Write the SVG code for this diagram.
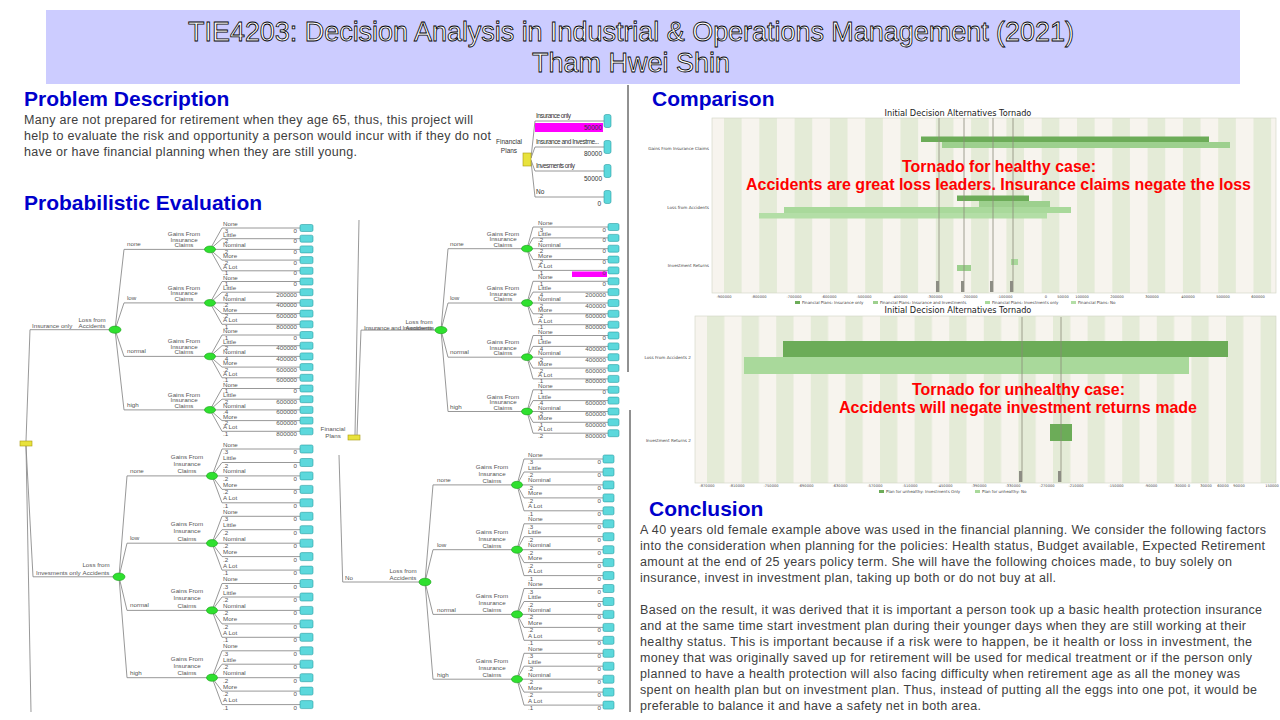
<svg xmlns="http://www.w3.org/2000/svg" width="1280" height="720" viewBox="0 0 1280 720">
<defs>
<style>
.hd{font-family:"Liberation Sans",Arial,sans-serif;font-weight:bold;font-size:21px;fill:#0000cc}
.ti{font-family:"Liberation Sans",Arial,sans-serif;font-size:27px;fill:#fff;stroke:#000;stroke-width:0.8px}
.bd{font-family:"Liberation Sans",Arial,sans-serif;font-size:12.5px;fill:#404040}
.t{font-family:"Liberation Sans",Arial,sans-serif;font-size:6.2px;fill:#555}
.te{font-family:"Liberation Sans",Arial,sans-serif;font-size:6.2px;fill:#555;text-anchor:end}
.tm{font-family:"Liberation Sans",Arial,sans-serif;font-size:6.2px;fill:#555;text-anchor:middle}
.ft{font-family:"Liberation Sans",Arial,sans-serif;font-size:6.5px;fill:#333}
.cn{fill:none;stroke:#8c8c8c;stroke-width:0.9}
.ch{fill:#2fe02f;stroke:#17a017;stroke-width:0.6}
.lf{fill:#5cd8dc;stroke:#2a9da3;stroke-width:0.6}
.dc{fill:#e8e23c;stroke:#a89a10;stroke-width:0.6}
.ct{font-family:"DejaVu Sans",sans-serif;font-size:8.2px;fill:#222;text-anchor:middle}
.ax{font-family:"DejaVu Sans",sans-serif;font-size:3.6px;fill:#444;text-anchor:middle}
.cat{font-family:"DejaVu Sans",sans-serif;font-size:4.2px;fill:#444;text-anchor:end}
.lg{font-family:"DejaVu Sans",sans-serif;font-size:4px;fill:#444}
.red{font-family:"Liberation Sans",Arial,sans-serif;font-weight:bold;font-size:17px;fill:#ff0000}
.ref{stroke:#8a8a78;stroke-width:0.8}
.s1{fill:#6cac58}
.s2{fill:#9dd08e}
.s3{fill:#a9d99b}
.s4{fill:#b3dea6}
.dv{stroke:#222;stroke-width:1}
</style>
<pattern id="st1" patternUnits="userSpaceOnUse" x="724" y="0" width="35.3" height="10"><rect width="35.3" height="10" fill="#f7f4ee"/><rect width="17.6" height="10" fill="#e4ebd7"/></pattern>
<pattern id="st2" patternUnits="userSpaceOnUse" x="707" y="0" width="34.6" height="10"><rect width="34.6" height="10" fill="#f7f4ee"/><rect width="17.3" height="10" fill="#e4ebd7"/></pattern>
<rect id="bA" class="lf" width="13" height="7" rx="1.5"/>
<rect id="bC" class="lf" width="13" height="8" rx="1.5"/>
<rect id="bB" class="lf" width="11" height="7" rx="1.5"/>
<rect id="bD" class="lf" width="11" height="8" rx="1.5"/>
</defs>
<rect width="1280" height="720" fill="#fff"/>

<g id="header">
<rect x="46" y="10" width="1194" height="74" fill="#ccccff"/>
<text class="ti" x="188" y="41" textLength="886">TIE4203: Decision Analysis in Industrial &amp; Operations Management (2021)</text>
<text class="ti" x="631" y="72" text-anchor="middle">Tham Hwei Shin</text>
</g>

<g id="dividers">
<line class="dv" x1="628" y1="85" x2="628" y2="372"/>
<line class="dv" x1="630" y1="410" x2="630" y2="712"/>
</g>

<g id="problem">
<text class="hd" x="24" y="106">Problem Description</text>
<text class="bd" x="24" y="124" textLength="449" lengthAdjust="spacing">Many are not prepared for retirement when they age 65, thus, this project will</text>
<text class="bd" x="24" y="140" textLength="467" lengthAdjust="spacing">help to evaluate the risk and opportunity a person would incur with if they do not</text>
<text class="bd" x="24" y="156" textLength="333" lengthAdjust="spacing">have or have financial planning when they are still young.</text>
</g>

<g id="fp-summary">
<g id="fp-connectors" class="cn"><path d="M531,158 L535,121 H604 M531,158 L535,147 H604 M531,160 L535,171 H604 M531,161 L535,197 H604"/></g>
<rect x="535" y="123" width="68" height="9" fill="#ff00ff"/>
<g id="fp-decision"><rect class="dc" x="523" y="153" width="8" height="13"/>
<text class="ft" x="509" y="144" text-anchor="middle">Financial</text>
<text class="ft" x="509" y="153" text-anchor="middle">Plans</text></g>
<g id="fp-ins"><rect class="lf" x="604" y="114.5" width="7" height="13" rx="2"/><text class="ft" x="536" y="117.5" textLength="35">Insurance only</text><text class="ft" x="602" y="130" text-anchor="end">50000</text></g>
<g id="fp-both"><rect class="lf" x="604" y="140.5" width="7" height="13" rx="2"/><text class="ft" x="536" y="144" textLength="63">Insurance and Investme...</text><text class="ft" x="602" y="156" text-anchor="end">80000</text></g>
<g id="fp-inv"><rect class="lf" x="604" y="164.5" width="7" height="13" rx="2"/><text class="ft" x="536" y="168" textLength="39">Invesments only</text><text class="ft" x="602" y="181" text-anchor="end">50000</text></g>
<g id="fp-no"><rect class="lf" x="604" y="190.5" width="7" height="13" rx="2"/><text class="ft" x="536" y="194">No</text><text class="ft" x="601" y="206" text-anchor="end">0</text></g>
</g>

<text class="hd" x="24" y="210">Probabilistic Evaluation</text>

<!-- Tree A : Insurance only -->
<g id="tree-insurance-only">
<g id="A-connectors" class="cn"><path d="M26,441 L30,329.7 H115
M115,329.7 L124,249.4 H210 M115,329.7 L124,302.9 H210 M115,329.7 L124,356.4 H210 M115,329.7 L124,409.9 H210
M210,249.4 L222,228 H300 M210,249.4 L222,238.7 H300 M210,249.4 L222,249.4 H300 M210,249.4 L222,260.1 H300 M210,249.4 L222,270.8 H300
M210,302.9 L222,281.5 H300 M210,302.9 L222,292.2 H300 M210,302.9 L222,302.9 H300 M210,302.9 L222,313.6 H300 M210,302.9 L222,324.3 H300
M210,356.4 L222,335 H300 M210,356.4 L222,345.7 H300 M210,356.4 L222,356.4 H300 M210,356.4 L222,367.1 H300 M210,356.4 L222,377.8 H300
M210,409.9 L222,388.5 H300 M210,409.9 L222,399.2 H300 M210,409.9 L222,409.9 H300 M210,409.9 L222,420.6 H300 M210,409.9 L222,431.3 H300"/></g>
<g id="A-loss"><ellipse class="ch" cx="115" cy="329.7" rx="6" ry="3.6"/><text class="tm" x="92" y="322">Loss from</text><text class="tm" x="92" y="328.3">Accidents</text><text class="t" x="32" y="328.3">Insurance only</text></g>
<g id="A-gain-none"><ellipse class="ch" cx="210" cy="249.4" rx="5.5" ry="3.4"/><text class="t" x="127" y="246.4">none</text><text class="tm" x="184" y="236">Gains From</text><text class="tm" x="184" y="241.7">Insurance</text><text class="tm" x="184" y="247.4">Claims</text></g>
<g id="A-gain-low"><ellipse class="ch" cx="210" cy="302.9" rx="5.5" ry="3.4"/><text class="t" x="127" y="299.9">low</text><text class="tm" x="184" y="289.5">Gains From</text><text class="tm" x="184" y="295.2">Insurance</text><text class="tm" x="184" y="300.9">Claims</text></g>
<g id="A-gain-normal"><ellipse class="ch" cx="210" cy="356.4" rx="5.5" ry="3.4"/><text class="t" x="127" y="353.4">normal</text><text class="tm" x="184" y="343">Gains From</text><text class="tm" x="184" y="348.7">Insurance</text><text class="tm" x="184" y="354.4">Claims</text></g>
<g id="A-gain-high"><ellipse class="ch" cx="210" cy="409.9" rx="5.5" ry="3.4"/><text class="t" x="127" y="406.9">high</text><text class="tm" x="184" y="396.5">Gains From</text><text class="tm" x="184" y="402.2">Insurance</text><text class="tm" x="184" y="407.9">Claims</text></g>
<g id="A-leaves">
<use href="#bA" x="300" y="224.5"/><use href="#bA" x="300" y="235.2"/><use href="#bA" x="300" y="245.9"/><use href="#bA" x="300" y="256.6"/><use href="#bA" x="300" y="267.3"/>
<use href="#bA" x="300" y="278"/><use href="#bA" x="300" y="288.7"/><use href="#bA" x="300" y="299.4"/><use href="#bA" x="300" y="310.1"/><use href="#bA" x="300" y="320.8"/>
<use href="#bA" x="300" y="331.5"/><use href="#bA" x="300" y="342.2"/><use href="#bA" x="300" y="352.9"/><use href="#bA" x="300" y="363.6"/><use href="#bA" x="300" y="374.3"/>
<use href="#bA" x="300" y="385"/><use href="#bA" x="300" y="395.7"/><use href="#bA" x="300" y="406.4"/><use href="#bA" x="300" y="417.1"/><use href="#bA" x="300" y="427.8"/>
<text class="t"><tspan x="223" y="226">None</tspan><tspan x="223" y="236.7">Little</tspan><tspan x="223" y="247.4">Nominal</tspan><tspan x="223" y="258.1">More</tspan><tspan x="223" y="268.8">A Lot</tspan><tspan x="223" y="279.5">None</tspan><tspan x="223" y="290.2">Little</tspan><tspan x="223" y="300.9">Nominal</tspan><tspan x="223" y="311.6">More</tspan><tspan x="223" y="322.3">A Lot</tspan><tspan x="223" y="333">None</tspan><tspan x="223" y="343.7">Little</tspan><tspan x="223" y="354.4">Nominal</tspan><tspan x="223" y="365.1">More</tspan><tspan x="223" y="375.8">A Lot</tspan><tspan x="223" y="386.5">None</tspan><tspan x="223" y="397.2">Little</tspan><tspan x="223" y="407.9">Nominal</tspan><tspan x="223" y="418.6">More</tspan><tspan x="223" y="429.3">A Lot</tspan></text>
<text class="t"><tspan x="223" y="232.5">.3</tspan><tspan x="223" y="243.2">.2</tspan><tspan x="223" y="253.9">.2</tspan><tspan x="223" y="264.6">.2</tspan><tspan x="223" y="275.3">.1</tspan><tspan x="223" y="286">.1</tspan><tspan x="223" y="296.7">.4</tspan><tspan x="223" y="307.4">.2</tspan><tspan x="223" y="318.1">.2</tspan><tspan x="223" y="328.8">.1</tspan><tspan x="223" y="339.5">.1</tspan><tspan x="223" y="350.2">.2</tspan><tspan x="223" y="360.9">.4</tspan><tspan x="223" y="371.6">.2</tspan><tspan x="223" y="382.3">.1</tspan><tspan x="223" y="393">.1</tspan><tspan x="223" y="403.7">.2</tspan><tspan x="223" y="414.4">.4</tspan><tspan x="223" y="425.1">.2</tspan><tspan x="223" y="435.8">.1</tspan></text>
<text class="te"><tspan x="297" y="232.5">0</tspan><tspan x="297" y="243.2">0</tspan><tspan x="297" y="253.9">0</tspan><tspan x="297" y="264.6">0</tspan><tspan x="297" y="275.3">0</tspan><tspan x="297" y="286">0</tspan><tspan x="297" y="296.7">200000</tspan><tspan x="297" y="307.4">400000</tspan><tspan x="297" y="318.1">600000</tspan><tspan x="297" y="328.8">800000</tspan><tspan x="297" y="339.5">0</tspan><tspan x="297" y="350.2">400000</tspan><tspan x="297" y="360.9">400000</tspan><tspan x="297" y="371.6">600000</tspan><tspan x="297" y="382.3">600000</tspan><tspan x="297" y="393">0</tspan><tspan x="297" y="403.7">600000</tspan><tspan x="297" y="414.4">600000</tspan><tspan x="297" y="425.1">600000</tspan><tspan x="297" y="435.8">800000</tspan></text>
</g>
</g>

<!-- Tree C : Investments only -->
<g id="tree-investments-only">
<g id="C-connectors" class="cn"><path d="M26,446 L33,576.8 H119 M26,446 L31,712
M119,576.8 L127,475.9 H212 M119,576.8 L127,543.2 H212 M119,576.8 L127,610.4 H212 M119,576.8 L127,677.7 H212
M212,475.9 L222,449 H300 M212,475.9 L222,462.5 H300 M212,475.9 L222,475.9 H300 M212,475.9 L222,489.4 H300 M212,475.9 L222,502.8 H300
M212,543.2 L222,516.3 H300 M212,543.2 L222,529.7 H300 M212,543.2 L222,543.2 H300 M212,543.2 L222,556.6 H300 M212,543.2 L222,570.1 H300
M212,610.4 L222,583.5 H300 M212,610.4 L222,597 H300 M212,610.4 L222,610.4 H300 M212,610.4 L222,623.9 H300 M212,610.4 L222,637.3 H300
M212,677.7 L222,650.8 H300 M212,677.7 L222,664.2 H300 M212,677.7 L222,677.7 H300 M212,677.7 L222,691.1 H300 M212,677.7 L222,704.6 H300"/></g>
<g id="root-left"><rect class="dc" x="20" y="441" width="12" height="5"/></g>
<g id="C-loss"><ellipse class="ch" cx="119" cy="576.8" rx="6" ry="3.8"/><text class="tm" x="96" y="567">Loss from</text><text class="tm" x="96" y="574.7">Accidents</text><text class="t" x="36" y="574.7">Invesments only</text></g>
<g id="C-gain-none"><ellipse class="ch" cx="212" cy="475.9" rx="5.5" ry="3.6"/><text class="t" x="130" y="472.9">none</text><text class="tm" x="187" y="458.7">Gains From</text><text class="tm" x="187" y="465.9">Insurance</text><text class="tm" x="187" y="473.2">Claims</text></g>
<g id="C-gain-low"><ellipse class="ch" cx="212" cy="543.2" rx="5.5" ry="3.6"/><text class="t" x="130" y="540.2">low</text><text class="tm" x="187" y="526">Gains From</text><text class="tm" x="187" y="533.2">Insurance</text><text class="tm" x="187" y="540.5">Claims</text></g>
<g id="C-gain-normal"><ellipse class="ch" cx="212" cy="610.4" rx="5.5" ry="3.6"/><text class="t" x="130" y="607.4">normal</text><text class="tm" x="187" y="593.2">Gains From</text><text class="tm" x="187" y="600.4">Insurance</text><text class="tm" x="187" y="607.7">Claims</text></g>
<g id="C-gain-high"><ellipse class="ch" cx="212" cy="677.7" rx="5.5" ry="3.6"/><text class="t" x="130" y="674.7">high</text><text class="tm" x="187" y="660.5">Gains From</text><text class="tm" x="187" y="667.7">Insurance</text><text class="tm" x="187" y="675">Claims</text></g>
<g id="C-leaves">
<use href="#bC" x="300" y="445"/><use href="#bC" x="300" y="458.5"/><use href="#bC" x="300" y="471.9"/><use href="#bC" x="300" y="485.4"/><use href="#bC" x="300" y="498.8"/>
<use href="#bC" x="300" y="512.3"/><use href="#bC" x="300" y="525.7"/><use href="#bC" x="300" y="539.2"/><use href="#bC" x="300" y="552.6"/><use href="#bC" x="300" y="566.1"/>
<use href="#bC" x="300" y="579.5"/><use href="#bC" x="300" y="593"/><use href="#bC" x="300" y="606.4"/><use href="#bC" x="300" y="619.9"/><use href="#bC" x="300" y="633.3"/>
<use href="#bC" x="300" y="646.8"/><use href="#bC" x="300" y="660.2"/><use href="#bC" x="300" y="673.7"/><use href="#bC" x="300" y="687.1"/><use href="#bC" x="300" y="700.6"/>
<text class="t"><tspan x="223" y="446.5">None</tspan><tspan x="223" y="460">Little</tspan><tspan x="223" y="473.4">Nominal</tspan><tspan x="223" y="486.9">More</tspan><tspan x="223" y="500.3">A Lot</tspan><tspan x="223" y="513.8">None</tspan><tspan x="223" y="527.2">Little</tspan><tspan x="223" y="540.7">Nominal</tspan><tspan x="223" y="554.1">More</tspan><tspan x="223" y="567.6">A Lot</tspan><tspan x="223" y="581">None</tspan><tspan x="223" y="594.5">Little</tspan><tspan x="223" y="607.9">Nominal</tspan><tspan x="223" y="621.4">More</tspan><tspan x="223" y="634.8">A Lot</tspan><tspan x="223" y="648.3">None</tspan><tspan x="223" y="661.7">Little</tspan><tspan x="223" y="675.2">Nominal</tspan><tspan x="223" y="688.6">More</tspan><tspan x="223" y="702.1">A Lot</tspan></text>
<text class="t"><tspan x="223" y="454">.3</tspan><tspan x="223" y="467.5">.2</tspan><tspan x="223" y="480.9">.2</tspan><tspan x="223" y="494.4">.2</tspan><tspan x="223" y="507.8">.1</tspan><tspan x="223" y="521.3">.3</tspan><tspan x="223" y="534.7">.2</tspan><tspan x="223" y="548.2">.2</tspan><tspan x="223" y="561.6">.2</tspan><tspan x="223" y="575.1">.1</tspan><tspan x="223" y="588.5">.3</tspan><tspan x="223" y="602">.2</tspan><tspan x="223" y="615.4">.2</tspan><tspan x="223" y="628.9">.2</tspan><tspan x="223" y="642.3">.1</tspan><tspan x="223" y="655.8">.3</tspan><tspan x="223" y="669.2">.2</tspan><tspan x="223" y="682.7">.2</tspan><tspan x="223" y="696.1">.2</tspan><tspan x="223" y="709.6">.1</tspan></text>
<text class="te"><tspan x="297" y="454">0</tspan><tspan x="297" y="467.5">0</tspan><tspan x="297" y="480.9">0</tspan><tspan x="297" y="494.4">0</tspan><tspan x="297" y="507.8">0</tspan><tspan x="297" y="521.3">0</tspan><tspan x="297" y="534.7">0</tspan><tspan x="297" y="548.2">0</tspan><tspan x="297" y="561.6">0</tspan><tspan x="297" y="575.1">0</tspan><tspan x="297" y="588.5">0</tspan><tspan x="297" y="602">0</tspan><tspan x="297" y="615.4">0</tspan><tspan x="297" y="628.9">0</tspan><tspan x="297" y="642.3">0</tspan><tspan x="297" y="655.8">0</tspan><tspan x="297" y="669.2">0</tspan><tspan x="297" y="682.7">0</tspan><tspan x="297" y="696.1">0</tspan><tspan x="297" y="709.6">0</tspan></text>
</g>
</g>

<!-- Tree B : Insurance and Investments -->
<g id="tree-insurance-and-investments">
<g id="B-connectors" class="cn"><path d="M355,435 L359,220 M357,435 L361,330.1 H441
M441,330.1 L448,248.7 H527 M441,330.1 L448,303 H527 M441,330.1 L448,357.2 H527 M441,330.1 L448,411.5 H527
M527,248.7 L533,227 H608 M527,248.7 L533,237.9 H608 M527,248.7 L533,248.7 H608 M527,248.7 L533,259.6 H608 M527,248.7 L533,270.4 H608
M527,303 L533,281.3 H608 M527,303 L533,292.1 H608 M527,303 L533,303 H608 M527,303 L533,313.8 H608 M527,303 L533,324.7 H608
M527,357.2 L533,335.5 H608 M527,357.2 L533,346.4 H608 M527,357.2 L533,357.2 H608 M527,357.2 L533,368.1 H608 M527,357.2 L533,378.9 H608
M527,411.5 L533,389.8 H608 M527,411.5 L533,400.6 H608 M527,411.5 L533,411.5 H608 M527,411.5 L533,422.3 H608 M527,411.5 L533,433.2 H608"/></g>
<g id="root-right"><rect class="dc" x="348" y="435" width="12" height="5"/><text class="tm" x="333" y="431">Financial</text><text class="tm" x="333" y="438">Plans</text></g>
<g id="B-loss"><ellipse class="ch" cx="441" cy="330.1" rx="6" ry="3.6"/><text class="tm" x="419" y="323.7">Loss from</text><text class="t" x="364" y="329.5" textLength="70">Insurance and Investments</text><text class="tm" x="419" y="329.5">Accidents</text></g>
<g id="B-gain-none"><ellipse class="ch" cx="527" cy="248.7" rx="5.5" ry="3.4"/><text class="t" x="450" y="245.7">none</text><text class="tm" x="503" y="235.7">Gains From</text><text class="tm" x="503" y="241.2">Insurance</text><text class="tm" x="503" y="246.7">Claims</text></g>
<g id="B-gain-low"><ellipse class="ch" cx="527" cy="303" rx="5.5" ry="3.4"/><text class="t" x="450" y="300">low</text><text class="tm" x="503" y="290">Gains From</text><text class="tm" x="503" y="295.5">Insurance</text><text class="tm" x="503" y="301">Claims</text></g>
<g id="B-gain-normal"><ellipse class="ch" cx="527" cy="357.2" rx="5.5" ry="3.4"/><text class="t" x="450" y="354.2">normal</text><text class="tm" x="503" y="344.2">Gains From</text><text class="tm" x="503" y="349.7">Insurance</text><text class="tm" x="503" y="355.2">Claims</text></g>
<g id="B-gain-high"><ellipse class="ch" cx="527" cy="411.5" rx="5.5" ry="3.4"/><text class="t" x="450" y="408.5">high</text><text class="tm" x="503" y="398.5">Gains From</text><text class="tm" x="503" y="404">Insurance</text><text class="tm" x="503" y="409.5">Claims</text></g>
<g id="B-leaves">
<rect x="572" y="271.5" width="35" height="5.5" fill="#ff00ff"/>
<use href="#bB" x="608" y="223.5"/><use href="#bB" x="608" y="234.4"/><use href="#bB" x="608" y="245.2"/><use href="#bB" x="608" y="256.1"/><use href="#bB" x="608" y="266.9"/>
<use href="#bB" x="608" y="277.8"/><use href="#bB" x="608" y="288.6"/><use href="#bB" x="608" y="299.5"/><use href="#bB" x="608" y="310.3"/><use href="#bB" x="608" y="321.2"/>
<use href="#bB" x="608" y="332"/><use href="#bB" x="608" y="342.9"/><use href="#bB" x="608" y="353.7"/><use href="#bB" x="608" y="364.6"/><use href="#bB" x="608" y="375.4"/>
<use href="#bB" x="608" y="386.3"/><use href="#bB" x="608" y="397.1"/><use href="#bB" x="608" y="408"/><use href="#bB" x="608" y="418.8"/><use href="#bB" x="608" y="429.7"/>
<text class="t"><tspan x="538" y="225">None</tspan><tspan x="538" y="235.9">Little</tspan><tspan x="538" y="246.7">Nominal</tspan><tspan x="538" y="257.6">More</tspan><tspan x="538" y="268.4">A Lot</tspan><tspan x="538" y="279.3">None</tspan><tspan x="538" y="290.1">Little</tspan><tspan x="538" y="301">Nominal</tspan><tspan x="538" y="311.8">More</tspan><tspan x="538" y="322.7">A Lot</tspan><tspan x="538" y="333.5">None</tspan><tspan x="538" y="344.4">Little</tspan><tspan x="538" y="355.2">Nominal</tspan><tspan x="538" y="366.1">More</tspan><tspan x="538" y="376.9">A Lot</tspan><tspan x="538" y="387.8">None</tspan><tspan x="538" y="398.6">Little</tspan><tspan x="538" y="409.5">Nominal</tspan><tspan x="538" y="420.3">More</tspan><tspan x="538" y="431.2">A Lot</tspan></text>
<text class="t"><tspan x="538" y="231.5">.3</tspan><tspan x="538" y="242.4">.2</tspan><tspan x="538" y="253.2">.2</tspan><tspan x="538" y="264.1">.2</tspan><tspan x="538" y="274.9">.1</tspan><tspan x="538" y="285.8">.1</tspan><tspan x="538" y="296.6">.4</tspan><tspan x="538" y="307.5">.2</tspan><tspan x="538" y="318.3">.2</tspan><tspan x="538" y="329.2">.1</tspan><tspan x="538" y="340">.1</tspan><tspan x="538" y="350.9">.4</tspan><tspan x="538" y="361.7">.2</tspan><tspan x="538" y="372.6">.2</tspan><tspan x="538" y="383.4">.1</tspan><tspan x="538" y="394.3">.1</tspan><tspan x="538" y="405.1">.4</tspan><tspan x="538" y="416">.2</tspan><tspan x="538" y="426.8">.1</tspan><tspan x="538" y="437.7">.2</tspan></text>
<text class="te"><tspan x="606" y="231.5">0</tspan><tspan x="606" y="242.4">0</tspan><tspan x="606" y="253.2">0</tspan><tspan x="606" y="264.1">0</tspan><tspan x="606" y="274.9">0</tspan><tspan x="606" y="285.8">0</tspan><tspan x="606" y="296.6">200000</tspan><tspan x="606" y="307.5">400000</tspan><tspan x="606" y="318.3">600000</tspan><tspan x="606" y="329.2">800000</tspan><tspan x="606" y="340">0</tspan><tspan x="606" y="350.9">400000</tspan><tspan x="606" y="361.7">400000</tspan><tspan x="606" y="372.6">600000</tspan><tspan x="606" y="383.4">800000</tspan><tspan x="606" y="394.3">0</tspan><tspan x="606" y="405.1">600000</tspan><tspan x="606" y="416">600000</tspan><tspan x="606" y="426.8">600000</tspan><tspan x="606" y="437.7">800000</tspan></text>
</g>
</g>

<!-- Tree D : No -->
<g id="tree-no">
<g id="D-connectors" class="cn"><path d="M339,455 L342.7,582 H425
M425,582 L433,484.9 H517 M425,582 L433,549.7 H517 M425,582 L433,614.4 H517 M425,582 L433,679.2 H517
M517,484.9 L524,459 H603 M517,484.9 L524,472 H603 M517,484.9 L524,484.9 H603 M517,484.9 L524,497.9 H603 M517,484.9 L524,510.8 H603
M517,549.7 L524,523.8 H603 M517,549.7 L524,536.7 H603 M517,549.7 L524,549.7 H603 M517,549.7 L524,562.6 H603 M517,549.7 L524,575.6 H603
M517,614.4 L524,588.5 H603 M517,614.4 L524,601.5 H603 M517,614.4 L524,614.4 H603 M517,614.4 L524,627.4 H603 M517,614.4 L524,640.3 H603
M517,679.2 L524,653.3 H603 M517,679.2 L524,666.2 H603 M517,679.2 L524,679.2 H603 M517,679.2 L524,692.1 H603 M517,679.2 L524,705.1 H603"/></g>
<g id="D-loss"><ellipse class="ch" cx="425" cy="582" rx="6" ry="3.8"/><text class="tm" x="403" y="573">Loss from</text><text class="tm" x="403" y="580">Accidents</text><text class="t" x="345" y="580">No</text></g>
<g id="D-gain-none"><ellipse class="ch" cx="517" cy="484.9" rx="5.5" ry="3.6"/><text class="t" x="437" y="482.4">none</text><text class="tm" x="492" y="468.7">Gains From</text><text class="tm" x="492" y="475.7">Insurance</text><text class="tm" x="492" y="482.7">Claims</text></g>
<g id="D-gain-low"><ellipse class="ch" cx="517" cy="549.7" rx="5.5" ry="3.6"/><text class="t" x="437" y="547.2">low</text><text class="tm" x="492" y="533.5">Gains From</text><text class="tm" x="492" y="540.5">Insurance</text><text class="tm" x="492" y="547.5">Claims</text></g>
<g id="D-gain-normal"><ellipse class="ch" cx="517" cy="614.4" rx="5.5" ry="3.6"/><text class="t" x="437" y="611.9">normal</text><text class="tm" x="492" y="598.2">Gains From</text><text class="tm" x="492" y="605.2">Insurance</text><text class="tm" x="492" y="612.2">Claims</text></g>
<g id="D-gain-high"><ellipse class="ch" cx="517" cy="679.2" rx="5.5" ry="3.6"/><text class="t" x="437" y="676.7">high</text><text class="tm" x="492" y="663">Gains From</text><text class="tm" x="492" y="670">Insurance</text><text class="tm" x="492" y="677">Claims</text></g>
<g id="D-leaves">
<use href="#bD" x="603" y="455"/><use href="#bD" x="603" y="468"/><use href="#bD" x="603" y="480.9"/><use href="#bD" x="603" y="493.9"/><use href="#bD" x="603" y="506.8"/>
<use href="#bD" x="603" y="519.8"/><use href="#bD" x="603" y="532.7"/><use href="#bD" x="603" y="545.7"/><use href="#bD" x="603" y="558.6"/><use href="#bD" x="603" y="571.6"/>
<use href="#bD" x="603" y="584.5"/><use href="#bD" x="603" y="597.5"/><use href="#bD" x="603" y="610.4"/><use href="#bD" x="603" y="623.4"/><use href="#bD" x="603" y="636.3"/>
<use href="#bD" x="603" y="649.3"/><use href="#bD" x="603" y="662.2"/><use href="#bD" x="603" y="675.2"/><use href="#bD" x="603" y="688.1"/><use href="#bD" x="603" y="701.1"/>
<text class="t"><tspan x="528" y="456.5">None</tspan><tspan x="528" y="469.5">Little</tspan><tspan x="528" y="482.4">Nominal</tspan><tspan x="528" y="495.4">More</tspan><tspan x="528" y="508.3">A Lot</tspan><tspan x="528" y="521.3">None</tspan><tspan x="528" y="534.2">Little</tspan><tspan x="528" y="547.2">Nominal</tspan><tspan x="528" y="560.1">More</tspan><tspan x="528" y="573.1">A Lot</tspan><tspan x="528" y="586">None</tspan><tspan x="528" y="599">Little</tspan><tspan x="528" y="611.9">Nominal</tspan><tspan x="528" y="624.9">More</tspan><tspan x="528" y="637.8">A Lot</tspan><tspan x="528" y="650.8">None</tspan><tspan x="528" y="663.7">Little</tspan><tspan x="528" y="676.7">Nominal</tspan><tspan x="528" y="689.6">More</tspan><tspan x="528" y="702.6">A Lot</tspan></text>
<text class="t"><tspan x="528" y="464">.3</tspan><tspan x="528" y="477">.2</tspan><tspan x="528" y="489.9">.2</tspan><tspan x="528" y="502.9">.2</tspan><tspan x="528" y="515.8">.1</tspan><tspan x="528" y="528.8">.3</tspan><tspan x="528" y="541.7">.2</tspan><tspan x="528" y="554.7">.2</tspan><tspan x="528" y="567.6">.2</tspan><tspan x="528" y="580.6">.1</tspan><tspan x="528" y="593.5">.3</tspan><tspan x="528" y="606.5">.2</tspan><tspan x="528" y="619.4">.2</tspan><tspan x="528" y="632.4">.2</tspan><tspan x="528" y="645.3">.1</tspan><tspan x="528" y="658.3">.3</tspan><tspan x="528" y="671.2">.2</tspan><tspan x="528" y="684.2">.2</tspan><tspan x="528" y="697.1">.2</tspan><tspan x="528" y="710.1">.1</tspan></text>
<text class="te"><tspan x="601" y="464">0</tspan><tspan x="601" y="477">0</tspan><tspan x="601" y="489.9">0</tspan><tspan x="601" y="502.9">0</tspan><tspan x="601" y="515.8">0</tspan><tspan x="601" y="528.8">0</tspan><tspan x="601" y="541.7">0</tspan><tspan x="601" y="554.7">0</tspan><tspan x="601" y="567.6">0</tspan><tspan x="601" y="580.6">0</tspan><tspan x="601" y="593.5">0</tspan><tspan x="601" y="606.5">0</tspan><tspan x="601" y="619.4">0</tspan><tspan x="601" y="632.4">0</tspan><tspan x="601" y="645.3">0</tspan><tspan x="601" y="658.3">0</tspan><tspan x="601" y="671.2">0</tspan><tspan x="601" y="684.2">0</tspan><tspan x="601" y="697.1">0</tspan><tspan x="601" y="710.1">0</tspan></text>
</g>
</g>

<!-- Comparison -->
<text class="hd" x="652" y="106">Comparison</text>

<g id="tornado-healthy">
<text class="ct" x="958" y="116">Initial Decision Alternatives Tornado</text>
<rect x="712" y="118" width="564" height="175" fill="url(#st1)" stroke="#cfd3c4" stroke-width="0.6"/>
<text class="cat" x="709" y="149.5">Gains From Insurance Claims</text>
<text class="cat" x="709" y="208.5">Loss from Accidents</text>
<text class="cat" x="709" y="266.5">Investment Returns</text>
<rect class="s1" x="921" y="136.5" width="288" height="5.5"/>
<rect class="s2" x="942" y="142" width="288" height="6"/>
<rect class="s1" x="957" y="195.5" width="72" height="5.5"/>
<rect class="s2" x="979" y="201" width="71" height="6"/>
<rect class="s3" x="784" y="207" width="287" height="6"/>
<rect class="s4" x="759" y="213" width="288" height="5.5"/>
<rect class="s3" x="1011" y="259" width="7" height="6"/>
<rect class="s2" x="957" y="265" width="14" height="6"/>
<g class="ref"><line x1="939" y1="118" x2="939" y2="292"/><line x1="964" y1="118" x2="964" y2="292"/><line x1="993" y1="118" x2="993" y2="292"/><line x1="1013" y1="118" x2="1013" y2="292"/></g>
<g fill="#8d8d84"><rect x="936" y="281" width="3" height="11"/><rect x="961" y="281" width="3" height="11"/><rect x="990" y="281" width="3" height="11"/><rect x="1010" y="281" width="3" height="11"/></g>
<text class="ax"><tspan x="724" y="298">-900000</tspan><tspan x="759" y="298">-800000</tspan><tspan x="794" y="298">-700000</tspan><tspan x="829" y="298">-600000</tspan><tspan x="864" y="298">-500000</tspan><tspan x="900" y="298">-400000</tspan><tspan x="935" y="298">-300000</tspan><tspan x="970" y="298">-200000</tspan><tspan x="1005" y="298">-100000</tspan><tspan x="1046" y="298">0</tspan><tspan x="1063" y="298">50000</tspan><tspan x="1082" y="298">100000</tspan><tspan x="1117" y="298">200000</tspan><tspan x="1152" y="298">300000</tspan><tspan x="1188" y="298">400000</tspan><tspan x="1223" y="298">500000</tspan><tspan x="1258" y="298">600000</tspan></text>
<rect class="s1" x="795" y="301" width="5" height="3"/><text class="lg" x="802" y="304">Financial Plans: Insurance only</text>
<rect class="s2" x="873" y="301" width="5" height="3"/><text class="lg" x="880" y="304">Financial Plans: Insurance and Investments</text>
<rect class="s3" x="985" y="301" width="5" height="3"/><text class="lg" x="992" y="304">Financial Plans: Investments only</text>
<rect class="s4" x="1071" y="301" width="5" height="3"/><text class="lg" x="1078" y="304">Financial Plans: No</text>
<text class="red" x="902" y="172" textLength="194" lengthAdjust="spacingAndGlyphs">Tornado for healthy case:</text>
<text class="red" x="746" y="190" textLength="505" lengthAdjust="spacingAndGlyphs">Accidents are great loss leaders. Insurance claims negate the loss</text>
</g>

<g id="tornado-unhealthy">
<text class="ct" x="958" y="313">Initial Decision Alternatives Tornado</text>
<rect x="695" y="316" width="581" height="167" fill="url(#st2)" stroke="#cfd3c4" stroke-width="0.6"/>
<text class="cat" x="691" y="358.5">Loss From Accidents 2</text>
<text class="cat" x="691" y="442">Investment Returns 2</text>
<rect class="s1" x="783" y="341" width="445" height="16"/>
<rect class="s3" x="744" y="357" width="445" height="17"/>
<rect class="s1" x="1050" y="424" width="22" height="17"/>
<g class="ref"><line x1="1022" y1="317" x2="1022" y2="482"/><line x1="1061" y1="317" x2="1061" y2="482"/></g>
<g fill="#8d8d84"><rect x="1019" y="471" width="3" height="11"/><rect x="1058" y="471" width="3" height="11"/></g>
<text class="ax"><tspan x="707" y="487">-870000</tspan><tspan x="737" y="487">-810000</tspan><tspan x="771" y="487">-750000</tspan><tspan x="806" y="487">-690000</tspan><tspan x="840" y="487">-630000</tspan><tspan x="875" y="487">-570000</tspan><tspan x="910" y="487">-510000</tspan><tspan x="945" y="487">-450000</tspan><tspan x="979" y="487">-390000</tspan><tspan x="1013" y="487">-330000</tspan><tspan x="1047" y="487">-270000</tspan><tspan x="1076" y="487">-210000</tspan><tspan x="1116" y="487">-150000</tspan><tspan x="1151" y="487">-90000</tspan><tspan x="1180" y="487">-30000</tspan><tspan x="1189" y="487">0</tspan><tspan x="1206" y="487">30000</tspan><tspan x="1223" y="487">60000</tspan><tspan x="1239" y="487">90000</tspan><tspan x="1272" y="487">150000</tspan></text>
<rect class="s1" x="879" y="490" width="5" height="3"/><text class="lg" x="886" y="493">Plan for unhealthy: Investments Only</text>
<rect class="s3" x="975" y="490" width="5" height="3"/><text class="lg" x="982" y="493">Plan for unhealthy: No</text>
<text class="red" x="912" y="395" textLength="213" lengthAdjust="spacingAndGlyphs">Tornado for unhealthy case:</text>
<text class="red" x="839" y="413" textLength="358" lengthAdjust="spacingAndGlyphs">Accidents will negate investment returns made</text>
</g>

<g id="conclusion">
<text class="hd" x="649" y="516">Conclusion</text>
<text class="bd" x="640" y="534" textLength="626" lengthAdjust="spacing">A 40 years old female example above was used in the financial planning. We consider the following factors</text>
<text class="bd" x="640" y="550" textLength="625" lengthAdjust="spacing">into the consideration when planning for the policies: Health status, Budget available, Expected Retirement</text>
<text class="bd" x="640" y="566" textLength="592" lengthAdjust="spacing">amount at the end of 25 years policy term. She will have the following choices made, to buy solely on</text>
<text class="bd" x="640" y="582" textLength="416" lengthAdjust="spacing">insurance, invest in investment plan, taking up both or do not buy at all.</text>
<text class="bd" x="640" y="614" textLength="622" lengthAdjust="spacing">Based on the result, it was derived that it is important a person took up a basic health protection insurance</text>
<text class="bd" x="640" y="630" textLength="606" lengthAdjust="spacing">and at the same time start investment plan during their younger days when they are still working at their</text>
<text class="bd" x="640" y="646" textLength="612" lengthAdjust="spacing">healthy status. This is important because if a risk were to happen, be it health or loss in investment, the</text>
<text class="bd" x="640" y="662" textLength="612" lengthAdjust="spacing">money that was originally saved up for retirement will be used for medical treatment or if the person only</text>
<text class="bd" x="640" y="677.5" textLength="600" lengthAdjust="spacing">planned to have a health protection will also facing difficulty when retirement age as all the money was</text>
<text class="bd" x="640" y="693.5" textLength="617" lengthAdjust="spacing">spent on health plan but on investment plan. Thus, instead of putting all the eggs into one pot, it would be</text>
<text class="bd" x="640" y="709.5" textLength="341" lengthAdjust="spacing">preferable to balance it and have a safety net in both area.</text>
</g>
</svg>
